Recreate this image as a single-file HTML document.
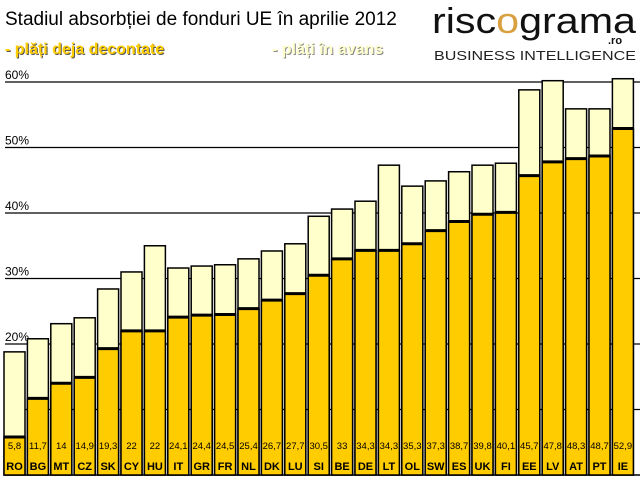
<!DOCTYPE html>
<html><head><meta charset="utf-8"><style>
body{margin:0;background:#fff;}
svg{display:block;font-family:"Liberation Sans",sans-serif;}
</style></head><body>
<svg id="c" width="640" height="480">
<text x="5" y="25" font-size="19" fill="#000">Stadiul absorbției de fonduri UE în aprilie 2012</text>
<text x="6" y="55" font-size="16" font-weight="bold" fill="#555">- plăți deja decontate</text>
<text x="5" y="54" font-size="16" font-weight="bold" fill="#ffcc00">- plăți deja decontate</text>
<text x="273" y="55" font-size="16" font-weight="bold" fill="#888">- plăți în avans</text>
<text x="272" y="54" font-size="16" font-weight="bold" fill="#ffffcc">- plăți în avans</text>
<g>
<text x="432" y="33" font-size="36" fill="#111" textLength="204" lengthAdjust="spacingAndGlyphs">risc<tspan fill="#d9a040">o</tspan>grama</text>
<text x="608" y="44" font-size="11" font-weight="bold" fill="#111">.ro</text>
<text x="434" y="60" font-size="13" fill="#222" textLength="202" lengthAdjust="spacingAndGlyphs">BUSINESS INTELLIGENCE</text>
</g>
<g id="grid"></g><g id="bars"></g>
</svg>
<script>
const categories=["RO","BG","MT","CZ","SK","CY","HU","IT","GR","FR","NL","DK","LU","SI","BE","DE","LT","OL","SW","ES","UK","FI","EE","LV","AT","PT","IE"];
const paid=[5.8,11.7,14,14.9,19.3,22,22,24.1,24.4,24.5,25.4,26.7,27.7,30.5,33,34.3,34.3,35.3,37.3,38.7,39.8,40.1,45.7,47.8,48.3,48.7,52.9];
const paidLabels=["5,8","11,7","14","14,9","19,3","22","22","24,1","24,4","24,5","25,4","26,7","27,7","30,5","33","34,3","34,3","35,3","37,3","38,7","39,8","40,1","45,7","47,8","48,3","48,7","52,9"];
const total=[18.8,20.8,23.1,24.0,28.4,31.0,35.0,31.6,31.9,32.1,33.0,34.2,35.3,39.5,40.6,41.8,47.3,44.1,44.9,46.3,47.3,47.6,58.8,60.2,55.9,55.9,60.5];
const ticks=[10,20,30,40,50,60];
const NS="http://www.w3.org/2000/svg";
const y=v=>475-v*6.55;
const x=i=>4+i*23.4;
const bw=21;
function mk(t,a,p){const e=document.createElementNS(NS,t);for(const k in a)e.setAttribute(k,a[k]);p.appendChild(e);return e;}
const g=document.getElementById('grid'),b=document.getElementById('bars');
ticks.forEach(t=>{
const l=mk('line',{x1:5,x2:640,y1:y(t),y2:y(t),stroke:'#000','stroke-width':1.2},g);


if(t>=20){const tx=mk('text',{x:5,y:y(t)-3,'font-size':12,fill:'#000'},g);tx.textContent=t+'%';

}
});
const base=mk('line',{x1:5,x2:640,y1:475,y2:475,stroke:'#000','stroke-width':1.5},g);


categories.forEach((c,i)=>{
const gg=mk('g',{},b);


mk('rect',{x:x(i),y:y(total[i]),width:bw,height:475-y(total[i]),fill:'#ffffcc',stroke:'#000','stroke-width':1.5},gg);
mk('rect',{x:x(i),y:y(paid[i]),width:bw,height:475-y(paid[i]),fill:'#ffcc00',stroke:'#000','stroke-width':1.5},gg);
mk('line',{x1:x(i),x2:x(i)+bw,y1:y(paid[i]),y2:y(paid[i]),stroke:'#000','stroke-width':3},gg);
const v=mk('text',{x:x(i)+bw/2,y:449,'font-size':9.5,'text-anchor':'middle',fill:'#000'},gg);v.textContent=paidLabels[i];


const l=mk('text',{x:x(i)+bw/2,y:470,'font-size':11,'font-weight':'bold','text-anchor':'middle',fill:'#000'},gg);l.textContent=c;


});
</script>
</body></html>
